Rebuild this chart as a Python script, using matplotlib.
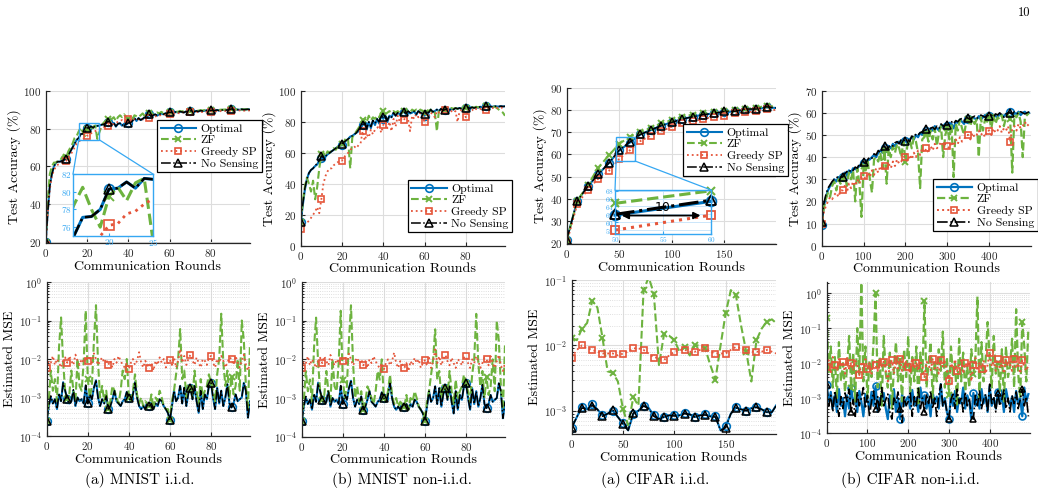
import numpy as np
import matplotlib
matplotlib.use('Agg')
import matplotlib.pyplot as plt
from matplotlib.patches import Rectangle, ConnectionPatch

plt.rcParams['font.family'] = 'serif'
plt.rcParams['font.serif'] = ['cmr10', 'DejaVu Serif']
plt.rcParams['mathtext.fontset'] = 'cm'
plt.rcParams['axes.formatter.use_mathtext'] = True

# ---------------- data ----------------
labels = ['Optimal', 'ZF', 'Greedy SP', 'No Sensing']
captions = ['(a) MNIST i.i.d.', '(b) MNIST non-i.i.d.', '(a) CIFAR i.i.d.', '(b) CIFAR non-i.i.d.']

mnist_rounds = np.arange(100)

# MNIST i.i.d. test accuracy (%)
acc_mi_opt = [20, 36, 50, 56, 60, 62, 62.5, 62.5, 63, 63.5,
              64, 66, 68, 70, 72, 74, 75, 77.1, 77.2, 78,
              80.3, 80.4, 81.1, 80.4, 81.5, 81.4, 81.6, 82, 82.3, 82.5,
              83.5, 83.5, 82, 83, 81, 82.5, 82.8, 81.5, 82.5, 82,
              83, 83, 84, 85.5, 84, 85.5, 84.5, 85, 86, 85.5,
              87.5, 86.5, 87, 87.5, 86.8, 87.5, 88, 87.5, 88, 88.2,
              88.5, 88.5, 88.2, 88.8, 88.5, 89, 88.7, 88.5, 89, 88.8,
              89.2, 89.2, 88.8, 89.3, 89, 89.5, 89.2, 89.4, 89.6, 89.3,
              89.5, 89.6, 89.4, 89.8, 89.5, 89.7, 89.9, 89.6, 89.8, 90,
              90.3, 89.8, 90.1, 90, 89.9, 90.2, 90, 90.1, 90.2, 90]
acc_mi_zf = [20, 42, 56, 60, 62, 62, 63, 63, 65, 66,
             65, 68, 70, 72, 75, 76, 78.5, 80.5, 78, 76,
             79.5, 80.5, 79, 81, 81.5, 74.5, 78, 81, 83, 84,
             85, 85.5, 85, 86, 84, 86, 87, 86, 87.5, 86,
             85, 86, 85, 87, 86.5, 86, 87, 88, 86.5, 87,
             88, 88.5, 87.5, 88, 88.5, 88, 88.8, 88.2, 89, 88.5,
             88.8, 89, 88.5, 89.2, 88.8, 89.3, 89, 89.4, 89, 89.5,
             89.3, 89.5, 89.2, 89.6, 89.4, 89.7, 89.5, 89.8, 89.6, 89.8,
             89.7, 89.9, 89.6, 90, 89.8, 90, 89.9, 90.1, 89.9, 90.2,
             90.3, 90, 90.2, 90.1, 90.3, 90, 90.2, 90.1, 90.3, 90.2]
acc_mi_gr = [18.5, 35, 48, 55, 58, 60, 61, 61.5, 62, 62.5,
             63, 65, 66, 68, 70, 72, 73, 74, 74.5, 75,
             76.2, 76.4, 77.5, 77.8, 78.6, 79.2, 79.5, 80, 80.5, 81,
             81.5, 82, 82.5, 82.3, 83, 83.5, 84, 84.5, 84, 84.5,
             85, 84.5, 84, 85, 84.3, 85, 85.5, 84.8, 85.2, 85.5,
             85.5, 86, 86.5, 86.2, 87, 86.8, 87.2, 87.5, 87.3, 87.6,
             87.5, 87.8, 88, 87.7, 88.2, 88, 88.3, 88.5, 88.2, 88.6,
             88.5, 88.7, 88.4, 88.8, 88.6, 88.9, 88.7, 89, 88.8, 89,
             89, 89.1, 88.9, 89.2, 89, 89.3, 89.1, 89.3, 89.2, 89.4,
             89.5, 89.3, 89.5, 89.4, 89.6, 89.5, 89.4, 89.6, 89.5, 89.6]
acc_mi_ns = [20, 36, 50, 56, 60, 62, 62.5, 62.5, 63, 63.5,
             64, 66, 68, 70, 72, 74, 75, 77.1, 77.2, 78,
             80.3, 80.4, 81.1, 80.4, 81.5, 81.4, 81.6, 82, 82.3, 82.5,
             83.7, 83.5, 82.2, 83, 81.2, 82.5, 82.8, 81.5, 82.5, 82.2,
             83, 83, 84, 85.5, 84.2, 85.5, 84.5, 85.2, 86, 85.5,
             87.5, 86.5, 87, 87.5, 87, 87.5, 88, 87.6, 88, 88.2,
             88.6, 88.5, 88.3, 88.8, 88.5, 89, 88.8, 88.5, 89, 88.8,
             89.3, 89.2, 88.9, 89.3, 89, 89.5, 89.3, 89.4, 89.6, 89.3,
             89.6, 89.6, 89.5, 89.8, 89.5, 89.7, 89.9, 89.7, 89.8, 90,
             90.4, 89.8, 90.1, 90, 90, 90.2, 90, 90.1, 90.2, 90]

# MNIST non-i.i.d. test accuracy (%)
acc_mn_opt = [15, 26, 36, 43, 47, 49, 50, 51.5, 52.5, 55,
              57, 56, 57.5, 59, 60, 61, 62, 63, 64, 64.5,
              65, 66.5, 68, 69, 70.5, 71, 72, 73, 74, 76,
              78, 80, 75, 80, 76, 81, 78, 82, 79, 84,
              82, 84, 80, 84, 83, 86, 84, 86, 85, 86,
              86.5, 85, 87, 85.5, 86, 87, 84.5, 87, 86, 85,
              84, 87, 86, 88, 86.5, 87, 88, 87, 88.5, 87.5,
              88, 88.5, 87.5, 88.5, 88, 89, 88.5, 89, 88.5, 89,
              89, 89.5, 88.5, 89.5, 89, 89.5, 89.2, 89.8, 89.5, 89.8,
              90, 89.6, 90, 89.8, 90.2, 90, 89.9, 90.2, 90, 90.1]
acc_mn_zf = [15, 28, 38, 44, 40, 35, 42, 30, 38, 50,
             59, 60, 58, 61, 60, 62, 63, 62, 64, 66,
             66, 67, 70, 68, 50, 70, 72, 74, 76, 78,
             81, 82, 80, 84, 81, 83, 82, 84, 83, 86,
             87, 85, 86, 87, 86, 87, 86, 87, 86, 87,
             87, 88, 87, 86, 88, 87, 88, 87, 88, 87,
             86, 88, 87, 88, 85, 86, 74, 88, 87, 88,
             88, 88.5, 88, 89, 88.5, 89, 88.5, 89, 89.2, 89,
             89, 89.5, 89, 89.6, 89.2, 89.8, 89.5, 89.8, 89.6, 90,
             90, 89.8, 90.2, 89.5, 90, 89, 88, 87, 86, 84]
acc_mn_gr = [11, 13, 14, 15, 16, 18, 20, 22, 25, 21,
             30, 40, 45, 48, 50, 50, 52, 53, 54, 55,
             55, 57, 59, 60, 62, 63, 64, 63, 65, 66,
             74, 68, 72, 70, 75, 72, 75, 76, 78, 73,
             78, 80, 76, 80, 74, 82, 77, 84, 80, 82,
             81, 84, 82, 74, 84, 82, 85, 83, 86, 84,
             80, 86, 84, 86, 85, 83, 87, 86, 87, 86,
             88, 86, 88, 87, 86, 87, 80, 87, 88, 87,
             83, 88, 87, 88, 87, 88.5, 88, 88.5, 88, 89,
             88, 89, 88.5, 89, 89.5, 89, 89.5, 89, 89.5, 89.5]
acc_mn_ns = [15, 27, 37, 43, 47, 49, 50, 52, 53, 55,
             58, 57, 58, 59, 60, 61, 62, 63, 64, 65,
             66, 67, 68, 69, 70, 71, 72, 73, 75, 76,
             78, 80, 76, 80, 77, 81, 79, 82, 80, 84,
             83, 84, 81, 84, 83, 86, 84, 86, 85, 86,
             86.5, 85.5, 87, 86, 86, 87, 85, 87, 86, 85.5,
             85, 87, 86, 88, 86.5, 87, 88, 87, 88.5, 87.5,
             88, 88.5, 87.5, 88.5, 88, 89, 88.5, 89, 88.5, 89,
             89, 89.5, 88.8, 89.5, 89, 89.5, 89.3, 89.8, 89.5, 89.8,
             90, 89.7, 90, 89.8, 90.2, 90, 90, 90.2, 90, 90.1]

# MNIST estimated MSE (x 1e-3), same for i.i.d. and non-i.i.d.
mse_m_opt = [0.25, 0.6, 1.0, 0.7, 0.9, 0.5, 1.2, 0.8, 2.5, 1.5,
             0.9, 0.7, 0.8, 1.5, 0.6, 1.0, 0.8, 0.9, 0.7, 2.0,
             0.7, 1.2, 0.9, 1.8, 2.8, 1.0, 0.6, 0.9, 0.7, 1.1,
             0.5, 0.6, 0.9, 1.5, 0.8, 0.7, 0.6, 0.8, 0.9, 1.4,
             1.0, 0.8, 1.2, 2.5, 1.0, 0.6, 0.5, 0.6, 0.5, 0.7,
             0.6, 0.7, 0.5, 0.7, 0.6, 0.9, 0.8, 0.6, 0.5, 0.4,
             0.26, 0.6, 1.5, 0.8, 1.0, 2.0, 0.7, 1.8, 0.6, 1.3,
             1.8, 0.9, 2.0, 0.8, 0.4, 1.5, 0.5, 1.2, 0.9, 2.0,
             2.4, 1.0, 0.5, 1.8, 0.7, 1.5, 0.6, 1.0, 2.2, 0.7,
             0.55, 0.7, 1.2, 0.8, 0.9, 1.0, 2.4, 1.5, 0.3, 0.8]
mse_m_zf = [0.25, 0.8, 5, 1.5, 3, 0.8, 20, 120, 8, 1.5,
            0.9, 1.2, 5, 1.5, 0.8, 10, 2, 1.5, 8, 180,
            3, 1.0, 2, 30, 250, 8, 1.0, 2, 0.8, 1.5,
            0.5, 0.8, 2, 1.5, 1.0, 0.7, 1.5, 5, 3, 10,
            1.0, 0.8, 1.5, 4, 1.2, 0.7, 1.0, 0.6, 0.8, 0.7,
            0.6, 1.2, 0.5, 1.0, 0.8, 1.5, 1.0, 0.6, 0.5, 0.5,
            0.26, 0.8, 1.5, 4, 10, 60, 3, 5, 1.0, 2,
            1.8, 1.0, 5, 1.5, 0.7, 3, 1.0, 1.5, 2, 4,
            2.4, 1.5, 0.8, 4, 10, 150, 8, 2, 5, 1.0,
            3.5, 1.2, 2, 10, 1.5, 100, 30, 2, 0.5, 25]
mse_m_gr = [6, 9, 8, 12, 7, 10, 8, 6, 9, 11,
            8, 12, 9, 7, 13, 9, 7, 10, 8, 11,
            9, 12, 8, 14, 10, 7, 9, 11, 8, 10,
            7, 9, 6, 10, 8, 12, 9, 7, 6, 8,
            5.5, 8, 10, 7, 9, 15, 8, 6, 9, 7,
            6, 8, 5, 9, 7, 11, 8, 10, 6, 8,
            9.5, 7, 11, 6, 9, 18, 8, 12, 7, 10,
            13, 9, 7, 11, 8, 6, 10, 9, 7, 11,
            12, 8, 6, 10, 8, 12, 9, 6, 8, 11,
            10, 7, 12, 8, 6, 9, 13, 7, 5, 8]
mse_m_ns = [0.25, 0.6, 1.1, 0.7, 0.9, 0.5, 1.3, 0.8, 2.4, 1.5,
            0.9, 0.7, 0.8, 1.6, 0.6, 1.0, 0.8, 0.9, 0.7, 2.1,
            0.7, 1.2, 0.9, 1.8, 2.7, 1.0, 0.6, 0.9, 0.7, 1.1,
            0.5, 0.6, 0.9, 1.5, 0.8, 0.7, 0.6, 0.8, 0.9, 1.4,
            1.0, 0.8, 1.2, 2.4, 1.0, 0.6, 0.5, 0.6, 0.5, 0.7,
            0.6, 0.7, 0.5, 0.7, 0.6, 0.9, 0.8, 0.6, 0.5, 0.4,
            0.26, 0.6, 1.5, 0.8, 1.0, 2.0, 0.7, 1.8, 0.6, 1.3,
            1.8, 0.9, 2.0, 0.8, 0.4, 1.5, 0.5, 1.2, 0.9, 2.0,
            2.4, 1.0, 0.5, 1.8, 0.7, 1.5, 0.6, 1.0, 2.2, 0.7,
            0.55, 0.7, 1.2, 0.8, 0.9, 1.0, 2.4, 1.5, 0.3, 0.8]

# CIFAR i.i.d. test accuracy (%), every 10 rounds
ci_acc_rounds = [0, 10, 20, 30, 40, 50, 60, 70, 80, 90, 100,
                 110, 120, 130, 140, 150, 160, 170, 180, 190, 199]
acc_ci_opt = [21.5, 39, 45.5, 51, 56, 61.8, 65.3, 69, 71, 73, 74.5,
              76, 77, 78, 78.5, 79, 79.5, 80, 80.5, 81.2, 81]
acc_ci_zf = [21, 39, 46, 54, 59.5, 64.8, 68, 70, 72, 74, 75.5,
             77, 78, 78.5, 79, 79.5, 80, 80.5, 81, 82, 81.5]
acc_ci_gr = [20, 37.5, 44, 49, 52.5, 58, 61.8, 66, 68.5, 70.5, 72.5,
             74, 75, 76, 77, 77.5, 78.5, 79, 79.5, 80.5, 80]
acc_ci_ns = [21.5, 39, 45.5, 51, 56, 62, 65.6, 69, 71, 73, 74.5,
             76, 77, 78, 78.5, 79.5, 79.5, 80.5, 80.5, 81.5, 81]

# CIFAR i.i.d. estimated MSE (x 1e-3), every 5 rounds
ci_mse_rounds = [0, 5, 10, 15, 20, 25, 30, 35, 40, 45, 50, 55, 60, 65, 70, 75, 80, 85, 90, 95,
                 100, 105, 110, 115, 120, 125, 130, 135, 140, 145, 150, 155, 160, 165, 170, 175,
                 180, 185, 190, 195, 199]
mse_ci_opt = [0.55, 0.8, 1.15, 1.05, 1.25, 1.05, 0.85, 0.9, 1.0, 0.8, 0.65, 0.5, 0.9, 1.0, 1.2, 1.1,
              0.85, 0.75, 0.8, 0.85, 0.85, 0.85, 0.92, 0.88, 0.8, 0.85, 0.88, 0.82, 0.82, 0.5, 0.58,
              0.9, 1.12, 1.05, 1.0, 1.1, 1.15, 1.05, 0.95, 0.95, 1.2]
mse_ci_zf = [13, 12, 18, 22, 48, 38, 13, 4, 3.8, 2.8, 1.05, 0.6, 1.6, 1.2, 70, 110, 62, 5, 15, 14,
             12, 8, 9.5, 7, 10, 10, 9, 5, 3, 10, 31, 70, 58, 20, 8, 2.8, 12, 18, 23, 25, 22]
mse_ci_gr = [6.5, 8.5, 10, 9, 8.5, 8, 7.5, 7.5, 7.5, 7, 7.5, 8, 9, 9, 8.5, 7.5, 6.5, 6.5, 6, 7,
             8, 8.5, 8.5, 8, 8, 8.5, 9, 8, 7.5, 7.5, 7.5, 8.5, 9.5, 9, 8.5, 8, 8, 8, 8.5, 8, 7.5]
mse_ci_ns = [0.55, 0.8, 1.1, 1.05, 1.2, 1.05, 0.82, 0.9, 1.02, 0.8, 0.62, 0.5, 0.92, 1.0, 1.18, 1.08,
             0.82, 0.75, 0.8, 0.85, 0.83, 0.85, 0.9, 0.88, 0.8, 0.85, 0.86, 0.82, 0.8, 0.5, 0.55,
             0.9, 1.1, 1.05, 1.0, 1.08, 1.12, 1.05, 0.95, 0.95, 1.18]

# CIFAR non-i.i.d. test accuracy (%), every 5 rounds
cn_rounds = np.arange(0, 500, 5)
acc_cn_opt = [9.5, 18, 22, 25, 27, 28, 30, 29, 31, 30.5,
              31, 33, 32, 34, 33, 35, 34.5, 35, 36, 37,
              37.5, 36, 38.5, 39, 40, 41, 40, 42, 43, 42,
              44, 42.5, 45, 44, 46, 45, 46.5, 47, 46, 48,
              47.5, 46, 48, 49, 48, 50, 49, 51, 50, 51.5,
              52, 50.5, 53, 52, 54, 53, 52, 54.5, 53.5, 55,
              54, 55.5, 55, 53, 56, 55.5, 57, 56, 55, 57.5,
              57, 56, 58, 57.5, 57, 58.5, 57, 58, 59, 58,
              58.5, 57.5, 59, 58.5, 58, 59.5, 59, 58.5, 59.5, 60,
              60.5, 59, 60, 59.5, 60.5, 59, 60, 60.5, 59.5, 60]
acc_cn_zf = [10, 17, 21, 24, 22, 27, 29, 25, 30, 28,
             30, 32, 27, 33, 30, 34, 20, 35, 28, 13,
             36, 34, 38, 30, 24, 39, 40, 38, 42, 35,
             43, 28, 44, 40, 45, 42, 46, 44, 40, 47,
             38, 46, 48, 44, 49, 47, 42, 26, 48, 49,
             51, 47, 52, 48, 53, 45, 51, 54, 40, 50,
             53, 48, 55, 31, 55, 52, 57, 53, 50, 56,
             57, 54, 58, 55, 57, 40, 58, 52, 57, 56,
             58, 53, 59, 55, 58, 57, 59, 54, 58, 59,
             57, 33, 59, 58, 60, 56, 40, 58, 59, 60]
acc_cn_gr = [10, 15, 18, 20, 22, 21, 23, 24, 22, 25,
             25, 27, 24, 28, 26, 29, 27, 30, 28, 31,
             31.5, 30, 33, 31, 34, 32, 35, 33, 36, 34,
             36, 34, 37, 35, 38, 36, 39, 37, 38, 40,
             40, 38, 41, 39, 42, 40, 43, 41, 44, 42,
             44, 42, 45, 43, 46, 44, 45, 47, 45, 46,
             45, 44, 47, 45, 48, 46, 49, 47, 48, 50,
             50, 48, 51, 49, 50, 52, 50, 51, 49, 52,
             52, 50, 53, 51, 52, 54, 51, 53, 52, 54,
             47, 53, 54, 52, 55, 53, 54, 56, 54, 55]
acc_cn_ns = [10.5, 19, 23, 26, 27.5, 29, 30, 30.5, 31.5, 31,
             31, 32.5, 33.5, 33, 34.5, 34, 35.5, 35, 37, 36.5,
             38, 37, 39, 40, 39.5, 41.5, 41, 43, 42, 44,
             45, 43.5, 44.5, 45.5, 45, 46.5, 47, 46, 48, 47.5,
             47.5, 48, 47, 49.5, 49, 50.5, 50, 51, 51.5, 52,
             52.5, 51, 53, 53.5, 52.5, 54, 53, 55, 54, 54.5,
             54.5, 55, 56, 55, 56.5, 56, 57, 57.5, 56.5, 58,
             57.5, 57, 58, 58.5, 57.5, 58, 59, 58.5, 58, 59,
             58.5, 59, 58, 59.5, 59, 60, 59, 58, 59.5, 60,
             60, 59.5, 60.5, 60, 59.5, 60.5, 60, 59.5, 60, 60.5]

# CIFAR non-i.i.d. estimated MSE (x 1e-3), every 5 rounds
mse_cn_opt = [2.3, 0.8, 1.5, 0.5, 1.2, 0.4, 1.8, 0.6, 1.0, 0.3,
              1.2, 0.5, 2.0, 0.7, 1.1, 0.4, 1.6, 0.8, 0.3, 1.3,
              0.9, 0.5, 1.5, 0.6, 2.2, 0.4, 1.0, 0.7, 1.4, 0.5,
              0.25, 1.2, 0.6, 1.8, 0.4, 1.0, 0.25, 1.3, 0.6, 0.9,
              1.1, 0.5, 1.7, 0.6, 1.0, 0.4, 2.0, 0.8, 1.2, 0.5,
              0.9, 0.3, 1.5, 0.7, 1.1, 0.5, 2.5, 0.6, 1.0, 0.4,
              0.25, 1.3, 0.6, 1.6, 0.4, 1.0, 0.7, 2.0, 0.5, 1.2,
              0.8, 0.25, 1.4, 0.6, 1.1, 0.5, 1.8, 0.7, 1.2, 0.4,
              2.2, 0.6, 1.0, 0.5, 1.5, 0.7, 1.2, 0.4, 1.8, 0.9,
              0.6, 1.1, 0.4, 1.6, 0.7, 1.0, 0.3, 2.0, 0.8, 1.3]
mse_cn_zf = [200, 5, 30, 2, 15, 1.0, 40, 3, 10, 1.5,
             8, 60, 2, 20, 0.8, 100, 5, 2000, 3, 30,
             1.0, 12, 4, 40, 1000, 2, 15, 0.6, 60, 5,
             2, 20, 0.5, 8, 40, 3, 12, 0.8, 25, 4,
             60, 1.5, 15, 3, 30, 0.7, 20, 5, 600, 2,
             10, 40, 1.0, 12, 3, 25, 6, 80, 2, 15,
             1.2, 30, 4, 10, 0.6, 50, 3, 20, 1.5, 8,
             2, 25, 5, 15, 800, 1.0, 40, 3, 12, 150,
             14, 2, 60, 5, 10, 1.5, 25, 0.8, 30, 4,
             8, 50, 2, 350, 5, 1.0, 150, 30, 3, 100]
mse_cn_gr = [8, 12, 5, 15, 9, 6, 13, 8, 11, 5,
             14, 7, 10, 6, 12, 9, 4.5, 11, 8, 13,
             7, 10, 5, 12, 9, 6, 14, 8, 11, 6,
             3, 9, 12, 5, 10, 7, 13, 6, 9, 11,
             8, 5, 14, 7, 10, 6, 12, 8, 4, 11,
             9, 6, 13, 7, 10, 5, 12, 8, 11, 6,
             3, 10, 7, 13, 6, 9, 12, 5, 10, 8,
             11, 3, 9, 14, 6, 10, 7, 12, 5, 9,
             20, 8, 11, 6, 13, 7, 10, 5, 12, 8,
             9, 6, 13, 7, 10, 5, 12, 8, 6, 9]
mse_cn_ns = [2.3, 0.6, 1.2, 0.4, 1.6, 0.7, 0.3, 1.1, 0.5, 1.4,
             0.8, 1.8, 0.4, 0.9, 0.3, 1.5, 0.6, 1.0, 2.0, 0.5,
             1.2, 0.3, 0.8, 1.6, 0.5, 1.1, 0.4, 2.0, 0.6, 0.9,
             1.3, 0.4, 0.25, 1.0, 0.7, 1.5, 0.5, 0.2, 1.2, 0.6,
             0.8, 1.4, 0.3, 1.1, 0.6, 1.9, 0.5, 1.0, 0.4, 1.3,
             0.7, 1.6, 0.5, 1.0, 0.3, 1.2, 2.5, 0.6, 0.9, 0.4,
             0.25, 0.9, 1.3, 0.5, 1.8, 0.7, 1.1, 0.4, 1.5, 0.6,
             1.0, 0.3, 0.25, 1.2, 0.6, 1.6, 0.5, 0.9, 1.3, 0.4,
             2.5, 0.7, 1.1, 0.4, 1.4, 0.6, 0.9, 1.7, 0.5, 1.0,
             0.4, 1.2, 0.7, 1.5, 0.5, 0.9, 1.8, 0.6, 1.1, 0.3]

# ---------------- style ----------------
BLUE = '#0072BD'
GREEN = '#6DB33F'
RED = '#E5553A'
INSET = '#35A7F2'
W, H = 1038, 495

fig = plt.figure(figsize=(W / 100, H / 100), dpi=100)


def px_axes(l, t, r, b):
    return fig.add_axes([l / W, 1 - b / H, (r - l) / W, (b - t) / H])


def style(ax, log=False):
    for s in ['top', 'right']:
        ax.spines[s].set_visible(False)
    for s in ['left', 'bottom']:
        ax.spines[s].set_color('#262626')
        ax.spines[s].set_linewidth(0.9)
    ax.tick_params(direction='in', length=3, labelsize=8, colors='#262626', pad=3)
    ax.tick_params(which='minor', direction='in', length=1.5)
    ax.grid(True, which='major', color='#DDDDDD', lw=0.8)
    if log:
        ax.grid(True, which='minor', axis='y', color='#D5D5D5', lw=0.6, ls=':')
    ax.set_axisbelow(True)
    ax.set_xlabel('Communication Rounds', fontsize=10, labelpad=1)


def draw(ax, x, opt, zf, gr, ns, me, scale=1.0, lw=1.3, ms=5.5, me_line=None):
    me_line = me if me_line is None else me_line
    ax.plot(x, np.asarray(opt) * scale, color=BLUE, lw=lw + 0.2, marker='o', ms=ms,
            mfc='none', mew=1.2, markevery=me_line, label=labels[0])
    ax.plot(x, np.asarray(zf) * scale, color=GREEN, lw=lw + 0.2, ls='--', marker='x', ms=ms - 0.5,
            mew=1.4, markevery=me_line, label=labels[1])
    ax.plot(x, np.asarray(gr) * scale, color=RED, lw=lw, ls=':', marker='s', ms=ms - 0.5,
            mfc='none', mew=1.2, markevery=me, label=labels[2])
    ax.plot(x, np.asarray(ns) * scale, color='black', lw=lw - 0.2, ls='-.', marker='^', ms=ms,
            mfc='none', mew=1.1, markevery=me_line, label=labels[3])


def legend(ax, l, t):
    leg = ax.legend(loc='upper left', bbox_to_anchor=(l / W, 1 - t / H), bbox_transform=fig.transFigure,
                    fontsize=8.5, handlelength=3.0, handletextpad=0.4, borderpad=0.3,
                    labelspacing=0.12, fancybox=False, framealpha=1, borderaxespad=0)
    leg.get_frame().set_edgecolor('black')
    leg.get_frame().set_linewidth(0.9)


def inset_style(ins, size=6.5):
    for s in ins.spines.values():
        s.set_color(INSET)
        s.set_linewidth(1.0)
    ins.tick_params(direction='in', length=2, labelsize=size, colors=INSET, labelcolor=INSET, pad=1)


# ---- top row: accuracy ----
a1 = px_axes(45.7, 90.7, 250, 243)
draw(a1, mnist_rounds, acc_mi_opt, acc_mi_zf, acc_mi_gr, acc_mi_ns, 10)
a1.set_xlim(0, 99)
a1.set_ylim(19.5, 100)
a1.set_xticks([0, 20, 40, 60, 80])
a1.set_yticks([20, 40, 60, 80, 100])
a1.set_ylabel('Test Accuracy (%)', fontsize=10, labelpad=2)
style(a1)
legend(a1, 157, 120)

a1.add_patch(Rectangle((16, 74), 10, 9, fill=False, ec=INSET, lw=1.0, zorder=5))
i1 = px_axes(73, 174, 153, 236)
draw(i1, mnist_rounds, acc_mi_opt, acc_mi_zf, acc_mi_gr, acc_mi_ns, 10, lw=2.0, ms=7)
i1.set_xlim(15.9, 25)
i1.set_ylim(75, 82)
i1.set_xticks([20, 25])
i1.set_yticks([76, 78, 80, 82])
inset_style(i1)
for xa, xb in [((16, 74), (0, 1)), ((26, 74), (1, 1))]:
    fig.add_artist(ConnectionPatch(xyA=xa, coordsA=a1.transData, xyB=xb, coordsB=i1.transAxes,
                                   color=INSET, lw=0.9))

a2 = px_axes(300.7, 91, 505, 245.7)
draw(a2, mnist_rounds, acc_mn_opt, acc_mn_zf, acc_mn_gr, acc_mn_ns, 10)
a2.set_xlim(0, 99)
a2.set_ylim(0, 100)
a2.set_xticks([0, 20, 40, 60, 80])
a2.set_yticks([0, 20, 40, 60, 80, 100])
a2.set_ylabel('Test Accuracy (%)', fontsize=10, labelpad=2)
style(a2)
legend(a2, 407.7, 180)

a3 = px_axes(566.7, 88, 776, 244)
draw(a3, ci_acc_rounds, acc_ci_opt, acc_ci_zf, acc_ci_gr, acc_ci_ns, slice(0, 20))
a3.set_xlim(0, 199)
a3.set_ylim(19.5, 90)
a3.set_xticks([0, 50, 100, 150])
a3.set_yticks([20, 30, 40, 50, 60, 70, 80, 90])
a3.set_ylabel('Test Accuracy (%)', fontsize=10, labelpad=2)
style(a3)
legend(a3, 683, 124)

a3.add_patch(Rectangle((47, 57), 18, 11, fill=False, ec=INSET, lw=1.0, zorder=5))
i3 = px_axes(615, 190, 711, 234)
i3.plot(ci_acc_rounds[5:7], acc_ci_zf[5:7], color=GREEN, lw=2.2, ls='--', marker='x', ms=6, mew=1.5, clip_on=False)
i3.plot(ci_acc_rounds[5:7], acc_ci_opt[5:7], color=BLUE, lw=2.2, marker='o', ms=7, mfc='none', mew=1.3, clip_on=False)
i3.plot(ci_acc_rounds[5:7], acc_ci_gr[5:7], color=RED, lw=2.2, ls=':', marker='s', ms=6, mfc='none', mew=1.3, clip_on=False)
i3.plot(ci_acc_rounds[5:7], acc_ci_ns[5:7], color='black', lw=2.2, ls='-.', marker='^', ms=7, mfc='none', mew=1.3, clip_on=False)
i3.set_xlim(50, 60)
i3.set_ylim(57, 68.2)
i3.set_xticks([50, 55, 60])
i3.set_yticks([58, 60, 62, 64, 66, 68])
i3.grid(True, color='#CBE6FA', lw=0.7)
inset_style(i3, size=5.2)
i3.annotate('', xy=(59.2, 61.7), xytext=(50.4, 61.7),
            arrowprops=dict(arrowstyle='<|-|>', color='black', lw=1.3, mutation_scale=10))
i3.text(55, 62.0, '10', ha='center', va='bottom', fontsize=9, family='DejaVu Sans')
for xa, xb in [((47, 57), (0, 1)), ((65, 57), (1, 1))]:
    fig.add_artist(ConnectionPatch(xyA=xa, coordsA=a3.transData, xyB=xb, coordsB=i3.transAxes,
                                   color=INSET, lw=0.9))

a4 = px_axes(821.7, 90.7, 1030.7, 245.7)
draw(a4, cn_rounds, acc_cn_opt, acc_cn_zf, acc_cn_gr, acc_cn_ns, slice(0, 100, 10), lw=1.4)
a4.set_xlim(0, 499)
a4.set_ylim(0, 70)
a4.set_xticks([0, 100, 200, 300, 400])
a4.set_yticks([0, 10, 20, 30, 40, 50, 60, 70])
a4.set_ylabel('Test Accuracy (%)', fontsize=10, labelpad=2)
style(a4)
legend(a4, 933, 179)

# ---- bottom row: estimated MSE ----
b1 = px_axes(46.7, 282, 250, 436)
draw(b1, mnist_rounds, mse_m_opt, mse_m_zf, mse_m_gr, mse_m_ns, 10, scale=1e-3)
b2 = px_axes(301.7, 282, 505, 436.7)
draw(b2, mnist_rounds, mse_m_opt, mse_m_zf, mse_m_gr, mse_m_ns, 10, scale=1e-3)
for b in (b1, b2):
    b.set_yscale('log')
    b.set_xlim(0, 99)
    b.set_ylim(1e-4, 1e0)
    b.set_xticks([0, 20, 40, 60, 80])
    b.set_ylabel('Estimated MSE', fontsize=10, labelpad=2)
    style(b, log=True)

b3 = px_axes(571.7, 280, 776, 434)
draw(b3, ci_mse_rounds, mse_ci_opt, mse_ci_zf, mse_ci_gr, mse_ci_ns, slice(0, 40, 2), scale=1e-3)
b3.set_yscale('log')
b3.set_xlim(0, 199)
b3.set_ylim(4.4e-4, 1e-1)
b3.set_xticks([0, 50, 100, 150])
b3.set_ylabel('Estimated MSE', fontsize=10, labelpad=2)
style(b3, log=True)

b4 = px_axes(826.7, 282, 1030, 433)
draw(b4, cn_rounds, mse_cn_opt, mse_cn_zf, mse_cn_gr, mse_cn_ns, 4, scale=1e-3, lw=1.4, ms=5,
     me_line=slice(0, 100, 12))
b4.set_yscale('log')
b4.set_xlim(0, 499)
b4.set_ylim(1e-4, 2.1)
b4.set_xticks([0, 100, 200, 300, 400])
b4.set_ylabel('Estimated MSE', fontsize=10, labelpad=2)
style(b4, log=True)

for xc, cap in zip([140, 402, 655, 910], captions):
    fig.text(xc / W, 1 - 480 / H, cap, ha='center', va='center', fontsize=11)
fig.text(1030 / W, 1 - 13 / H, '10', ha='right', va='center', fontsize=9)

fig.savefig('out.png', dpi=100)
